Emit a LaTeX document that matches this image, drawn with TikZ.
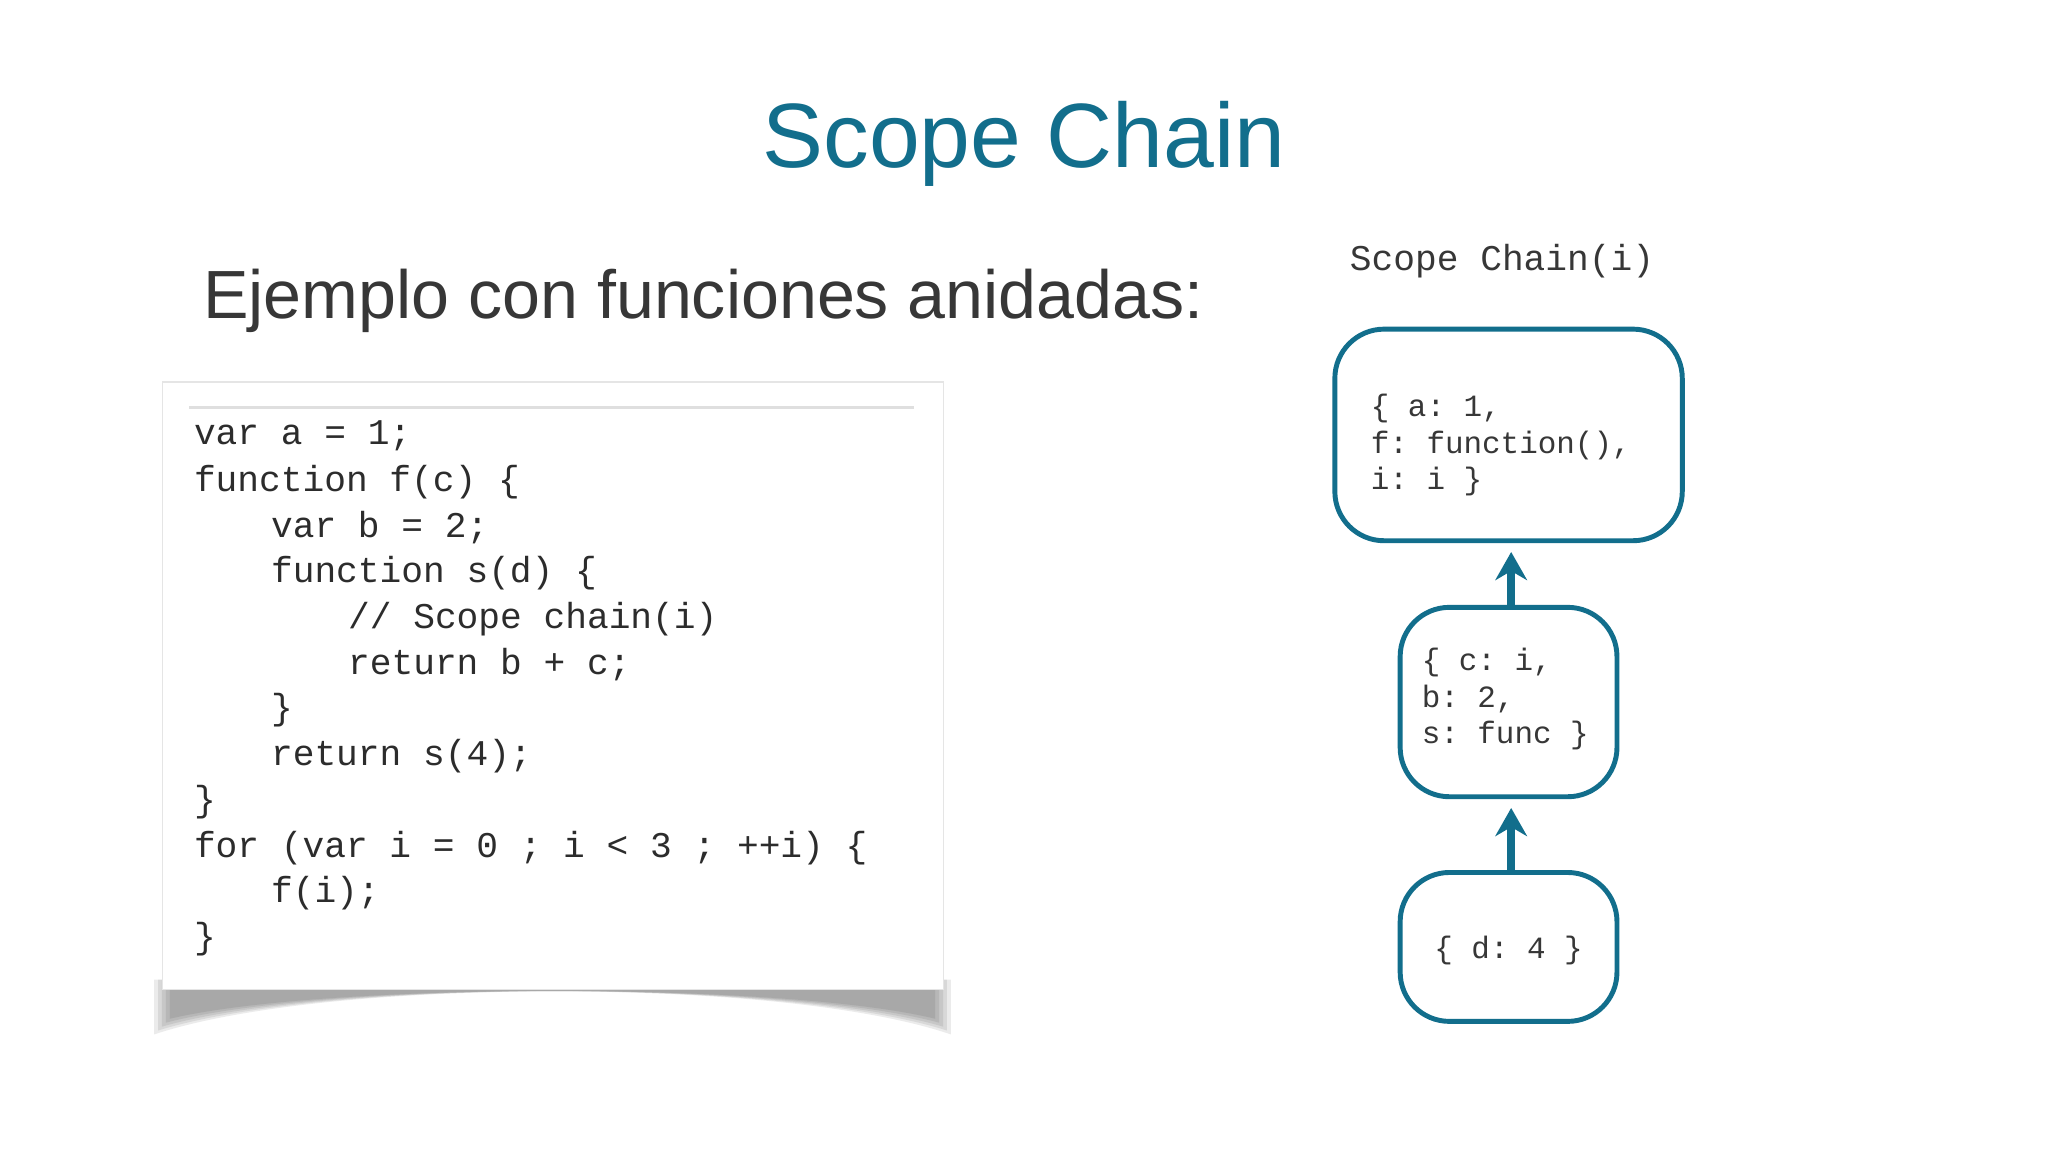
\documentclass[tikz,border=0pt]{standalone}
\usepackage{fontspec}
\setmainfont{Liberation Sans}
\setmonofont{Liberation Mono}
\usetikzlibrary{arrows.meta}
\definecolor{teal1}{RGB}{18,110,140}
\definecolor{txt}{RGB}{55,55,55}
\tikzset{
  code/.style={anchor=west,inner sep=0pt,font=\ttfamily\fontsize{10.3pt}{12pt}\selectfont,text=txt!80!black},
  small/.style={anchor=west,inner sep=0pt,font=\ttfamily\fontsize{8.8pt}{10pt}\selectfont,text=txt},
  scopebox/.style={draw=teal1,line width=1.4pt,rounded corners=14pt,fill=white},
  chainarrow/.style={draw=teal1,line width=2.2pt,-{Stealth[length=8pt,width=9pt]}}
}
\begin{document}
\begin{tikzpicture}[x=0.013061cm,y=-0.013061cm]
\useasboundingbox (0,0) rectangle (1568,882);
\fill[white] (0,0) rectangle (1568,882);
\node[font=\fontsize{26pt}{30pt}\selectfont,text=teal1] (title) at (784,110) {Scope Chain};
\node[font=\fontsize{19.4pt}{22pt}\selectfont,text=txt,anchor=west,inner sep=0pt] (sub) at (155,230) {Ejemplo con funciones anidadas:};
% shadow
\foreach \o/\a in {0/0.08,3/0.08,6/0.08,9/0.08,12/0.08}{
  \fill[black,opacity=\a] (118+\o,750) -- (728-\o,750) -- (728-\o,792-\o) .. controls (600,748+0.3*\o) and (250,748+0.3*\o) .. (118+\o,792-\o) -- cycle;
}
\node[draw=gray!20,fill=white,minimum width=598*0.013061cm,minimum height=465*0.013061cm,anchor=north west,inner sep=0pt] (codebox) at (124,292) {};
\draw[gray!25,line width=0.8pt] (145,312) -- (700,312);
\node[code] (l1) at (148,334) {var a = 1;};
\node[code] (l2) at (148,369) {function f(c) \{};
\node[code] (l3) at (207,404) {var b = 2;};
\node[code] (l4) at (207,439) {function s(d) \{};
\node[code] (l5) at (266,474) {// Scope chain(i)};
\node[code] (l6) at (266,509) {return b + c;};
\node[code] (l7) at (207,544) {\}};
\node[code] (l8) at (207,579) {return s(4);};
\node[code] (l9) at (148,614) {\}};
\node[code] (l10) at (148,649) {for (var i = 0 ; i < 3 ; ++i) \{};
\node[code] (l11) at (207,684) {f(i);};
\node[code] (l12) at (148,719) {\}};
% chain
\node[font=\ttfamily\fontsize{10.3pt}{12pt}\selectfont,text=txt] (sc) at (1150,200) {Scope Chain(i)};
\node[scopebox,minimum width=266*0.013061cm,minimum height=162*0.013061cm] (b1) at (1155,333) {};
\node[small] (t11) at (1049,313) {\{ a: 1,};
\node[small] (t12) at (1049,341) {f: function(),};
\node[small] (t13) at (1049,369) {i: i \}};
\node[scopebox,minimum width=166*0.013061cm,minimum height=145*0.013061cm] (b2) at (1155,537.5) {};
\node[small] (t21) at (1088,507) {\{ c: i,};
\node[small] (t22) at (1088,535) {b: 2,};
\node[small] (t23) at (1088,563) {s: func \}};
\node[scopebox,minimum width=166*0.013061cm,minimum height=114*0.013061cm] (b3) at (1155,725) {};
\node[small,anchor=center] (t31) at (1155,728) {\{ d: 4 \}};
\draw[chainarrow] (b2.north -| 1157,0) -- ([yshift=-2.5pt]b1.south -| 1157,0);
\draw[chainarrow] (b3.north -| 1157,0) -- ([yshift=-2.5pt]b2.south -| 1157,0);
\end{tikzpicture}
\end{document}
